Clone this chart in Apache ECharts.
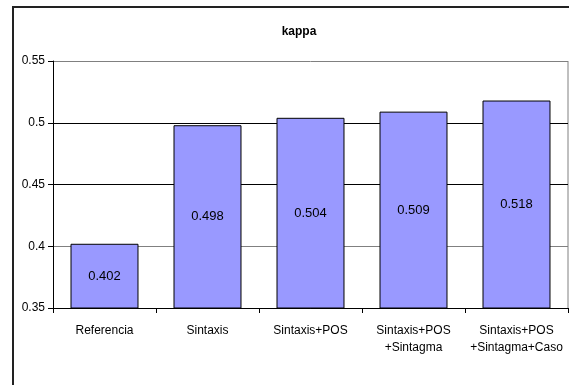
<!DOCTYPE html>
<html>
<head>
<meta charset="utf-8">
<script src="https://cdn.jsdelivr.net/npm/echarts@6/dist/echarts.min.js"></script>
<style>
  html, body { margin: 0; padding: 0; background: #fff; }
  #chart { width: 569px; height: 385px; }
</style>
</head>
<body>
<div id="chart"></div>
<script>
// categorias y valores de kappa
var categories = ['Referencia', 'Sintaxis', 'Sintaxis+POS', 'Sintaxis+POS\n+Sintagma', 'Sintaxis+POS\n+Sintagma+Caso'];
var kappaValues = [0.402, 0.498, 0.504, 0.509, 0.518];
var yTicks = [0.35, 0.4, 0.45, 0.5, 0.55];

var chart = echarts.init(document.getElementById('chart'));

chart.setOption({
    animation: false,
    backgroundColor: '#fff',
    textStyle: { fontFamily: 'Liberation Sans, Arial, sans-serif' },
    title: {
        text: 'kappa',
        left: 294,
        top: 21,
        textAlign: 'center',
        textStyle: { fontSize: 12, fontWeight: 'bold', color: '#000' }
    },
    // marco exterior del grafico
    graphic: [{
        type: 'rect',
        shape: { x: 13, y: 7, width: 620, height: 420 },
        style: { fill: 'none', stroke: '#222', lineWidth: 2 },
        silent: true
    }, {
        // borde derecho del area de trazado
        type: 'line',
        shape: { x1: 568, y1: 61, x2: 568, y2: 308 },
        style: { stroke: '#808080', lineWidth: 1 },
        silent: true
    }],
    grid: { left: 53, top: 61, right: 1, bottom: 77 },
    xAxis: {
        type: 'category',
        data: categories,
        axisLine: { lineStyle: { color: '#000', width: 1 } },
        axisTick: { show: true, length: 5, lineStyle: { color: '#000' } },
        axisLabel: {
            color: '#000',
            fontSize: 12,
            margin: 14,
            lineHeight: 17,
            interval: 0
        }
    },
    yAxis: {
        type: 'value',
        min: yTicks[0],
        max: yTicks[yTicks.length - 1],
        interval: 0.05,
        axisLine: { show: true, lineStyle: { color: '#000', width: 1 } },
        axisTick: { show: true, length: 5, lineStyle: { color: '#000' } },
        axisLabel: { color: '#000', fontSize: 12, margin: 8 },
        splitLine: {
            show: true,
            lineStyle: { color: ['#000', '#808080', '#000', '#000', '#808080'], width: 1 }
        }
    },
    series: [{
        type: 'bar',
        data: kappaValues,
        barCategoryGap: '34%',
        itemStyle: { color: '#9999FF', borderColor: '#000', borderWidth: 1 },
        label: {
            show: true,
            position: 'inside',
            color: '#000',
            fontSize: 13,
            formatter: function (p) { return p.value.toFixed(3); }
        }
    }]
});
</script>
</body>
</html>
